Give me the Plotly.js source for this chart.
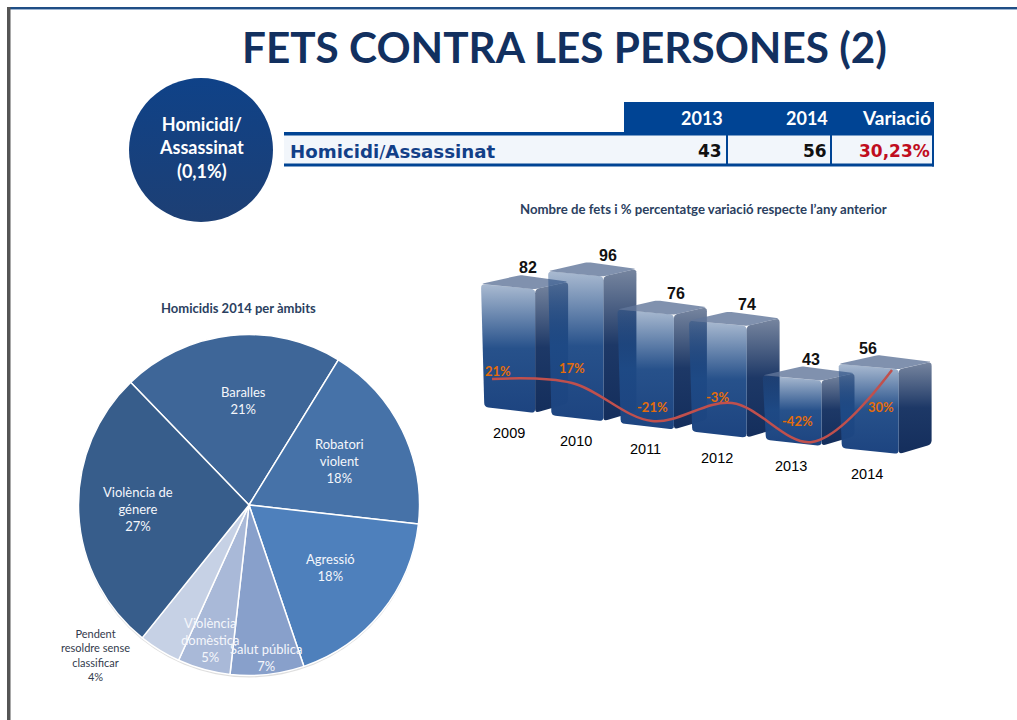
<!DOCTYPE html>
<html>
<head>
<meta charset="utf-8">
<script src="https://cdn.plot.ly/plotly-3.0.1.min.js"></script>
<style>html,body{margin:0;padding:0;background:#fff}#chart{width:1017px;height:720px}</style>
</head>
<body>
<div id="chart"></div>
<script>
// ---- data ----
var years = ['2009','2010','2011','2012','2013','2014'];
var facts = [82,96,76,74,43,56];
var variation = [21,17,-21,-3,-42,30];
var pieLabels = ['Baralles','Robatori violent','Agressió','Salut pública','Violència domèstica','Pendent resoldre sense classificar','Violència de génere'];
var pieValues = [21,18,18,7,5,4,27];
var tableHeaders = ['2013','2014','Variació'];
var tableRowName = ['Homicidi','/','Assassinat'];
var tableValues = ['43','56','30,23%'];

// ---- page geometry ----
var W = 1017, H = 720;
function px(x){return x/W;}
function py(y){return 1-y/H;}

// ---- bar projection (value units and slot units, mapped by the axes) ----
var unitX = 66, unitY = 1.5, leftPx = 481, zeroPy = 407;
var plotL = 440, plotR = 960, plotT = 240, plotB = 480;
function slot(i){return i + 0.0167*i*i;}
function base(i){return -5.47*i;}

// rounds the corners of a closed outline (radius in screen pixels)
function rounded(xs,ys,r){
  var outX=[],outY=[],n=xs.length;
  function q(a,b,c,t){return (1-t)*(1-t)*a+2*(1-t)*t*b+t*t*c;}
  for(var i=0;i<n;i++){
    var p=(i+n-1)%n,nx=(i+1)%n;
    var ax=(xs[p]-xs[i])*unitX,ay=(ys[p]-ys[i])*unitY,bx=(xs[nx]-xs[i])*unitX,by=(ys[nx]-ys[i])*unitY;
    var la=Math.hypot(ax,ay),lb=Math.hypot(bx,by),ra=Math.min(r,la/2),rb=Math.min(r,lb/2);
    var x0=xs[i]+ax/la*ra/unitX,y0=ys[i]+ay/la*ra/unitY,x2=xs[i]+bx/lb*rb/unitX,y2=ys[i]+by/lb*rb/unitY;
    [0,0.25,0.5,0.75,1].forEach(function(t){outX.push(q(x0,xs[i],x2,t));outY.push(q(y0,ys[i],y2,t));});
  }
  outX.push(outX[0]);outY.push(outY[0]);
  return {x:outX,y:outY};
}

var traces = [];
// circle
traces.push({type:'scatter',mode:'markers',xaxis:'x3',yaxis:'y3',x:[201],y:[150],
  marker:{size:144,color:'#0f4288',gradient:{type:'vertical',color:'#1d3f74'},line:{width:0}},
  hoverinfo:'skip',showlegend:false});

// 3D bars
years.forEach(function(yr,i){
  var xL=slot(i), w=0.82+0.018*i, d=0.5, xR=xL+w, xB=xR+d, b=base(i), t=b+facts[i];
  var side=rounded([xR,xB,xB,xR],[t-3.5,t+1.5,b+2.5,b-4],4);
  traces.push({type:'scatter',mode:'none',fill:'toself',x:side.x,y:side.y,
    fillgradient:{type:'vertical',colorscale:[[0,'rgba(20,46,92,1)'],[0.5,'rgba(22,50,98,0.97)'],[1,'rgba(34,58,100,0.62)']]},
    hoverinfo:'skip',showlegend:false});
  var front=rounded([xL,xR,xR,xL+0.05],[t,t-3.5,b-4,b],4);
  traces.push({type:'scatter',mode:'none',fill:'toself',x:front.x,y:front.y,
    fillgradient:{type:'vertical',colorscale:[[0,'rgba(29,68,128,1)'],[0.5,'rgba(30,74,134,0.96)'],[1,'rgba(30,74,134,0.38)']]},
    hoverinfo:'skip',showlegend:false});
  var top=rounded([xL,xL+0.6,xB,xR],[t,t+6,t+1.5,t-3.5],3);
  traces.push({type:'scatter',mode:'none',fill:'toself',x:top.x,y:top.y,
    fillcolor:'rgba(96,118,154,0.8)',hoverinfo:'skip',showlegend:false});
});

// variation line
traces.push({type:'scatter',mode:'lines',xaxis:'x2',yaxis:'y2',x:years,y:variation,
  line:{color:'#c0504d',width:2.5,shape:'spline',smoothing:1},hoverinfo:'skip',showlegend:false});

// pie
var pieCx=249,pieCy=505,pieR=170.5;
traces.push({type:'pie',labels:pieLabels,values:pieValues,sort:false,direction:'clockwise',rotation:-44,
  domain:{x:[px(pieCx-pieR),px(pieCx+pieR)],y:[py(pieCy+pieR),py(pieCy-pieR)]},
  marker:{colors:['#3e6698','#4672a8','#4e80bc','#88a0cb','#a9b9d8','#c6d1e5','#375d8b'],line:{color:'#ffffff',width:1.5}},
  textinfo:'none',hoverinfo:'skip',showlegend:false});

// ---- annotations ----
var ann = [];
function note(text,x,y,size,color,family,extra){
  var a={text:text,xref:'paper',yref:'paper',x:px(x),y:py(y),showarrow:false,xanchor:'center',yanchor:'middle',
    font:{size:size,color:color,family:family},align:'center'};
  for(var k in extra){a[k]=extra[k];}
  ann.push(a);
}
var LA='Lato, sans-serif', LS='"Liberation Sans", Arial, sans-serif', DV='"DejaVu Sans", sans-serif';
note('<b>FETS CONTRA LES PERSONES (2)</b>',564,47,42.3,'#12305f',LA);
note('<b>Homicidi/<br>Assassinat<br>(0,1%)</b>',201,148,18,'#ffffff',LA);
note('<b>Nombre de fets i % percentatge variació respecte l’any anterior</b>',703,209,13.2,'#2b3f5f',LA);
note('<b>Homicidis 2014 per àmbits</b>',238,308,13,'#2b3f5f',LA);

// table text
var headRight=[725,830,933];
tableHeaders.forEach(function(h,i){note('<b>'+h+'</b>',headRight[i],118,i==2?19:18,'#ffffff',LA,{xanchor:'right'});});
note('<b>'+tableRowName[0]+'</b>'+tableRowName[1]+'<b>'+tableRowName[2]+'</b>',288,151,18.2,'#123f88',DV,{xanchor:'left'});
var cellColor=['#111111','#111111','#c00d1e'];
var cellRight=[724,829,932];
tableValues.forEach(function(v,i){note('<b>'+v+'</b>',cellRight[i],151,17,cellColor[i],DV,{xanchor:'right'});});

// bar value + year labels, attached to bars through the axes
var valShift=[47,60,59,58,48,29];
years.forEach(function(yr,i){
  var t=base(i)+facts[i];
  ann.push({text:'<b>'+facts[i]+'</b>',xref:'x',yref:'y',x:slot(i),y:t,xshift:valShift[i],yshift:16,showarrow:false,
    font:{size:16,color:'#111111',family:LS}});
  ann.push({text:yr,xref:'x',yref:'y',x:slot(i),y:base(i),xshift:28,yshift:-26,showarrow:false,
    font:{size:14.5,color:'#000000',family:LS}});
});
// percent labels
var pctShiftX=[6,0,0,-15,-15,-11], pctShiftY=[8,15,14,6,21,-37];
variation.forEach(function(v,i){
  ann.push({text:'<b>'+v+'%</b>',xref:'x2',yref:'y2',x:i,y:v,xshift:pctShiftX[i],yshift:pctShiftY[i],showarrow:false,
    font:{size:13,color:'#e46c0a',family:LA}});
});
// pie labels
var pieTextPos=[[243,400],[339,461],[330,567],[266,657],[210,640],[95,655],[138,509]];
var pieTextLines=['Baralles<br>','Robatori<br>violent<br>','Agressió<br>','Salut pública<br>','Violència<br>domèstica<br>','Pendent<br>resoldre sense<br>classificar<br>','Violència de<br>génere<br>'];
pieTextLines.forEach(function(s,i){
  var outside=i==5;
  note(s+pieValues[i]+'%',pieTextPos[i][0],pieTextPos[i][1],outside?11:13,outside?'#333b4d':'#f4f6fb',LA);
});

// ---- frame and table shapes ----
function rect(x0,y0,x1,y1,c){return {type:'rect',xref:'paper',yref:'paper',x0:px(x0),x1:px(x1),y0:py(y0),y1:py(y1),fillcolor:c,line:{width:0},layer:'below'};}
var shapes=[
  rect(7,7,W,9,'#1f4e85'),
  rect(10,9,W,10,'#9db4d0'),
  rect(7,7,10.5,H,'#555555'),
  rect(624,102,934,133,'#004494'),
  rect(284,135,932,164,'#f2f6fb'),
  rect(284,132,934,135.5,'#004494'),
  rect(284,163.5,934,166.5,'#004494'),
  rect(726,135,728,164,'#004494'),
  rect(830,135,832,164,'#004494'),
  rect(932,132,934,166.5,'#004494'),
  {type:'circle',xref:'paper',yref:'paper',x0:px(pieCx-pieR),x1:px(pieCx+pieR),y0:py(pieCy+pieR+2),y1:py(pieCy-pieR+2),fillcolor:'rgba(0,0,0,0.13)',line:{width:0},layer:'below'}
];

var layout={width:W,height:H,margin:{l:0,r:0,t:0,b:0},paper_bgcolor:'#fff',plot_bgcolor:'rgba(0,0,0,0)',showlegend:false,
  xaxis:{domain:[px(plotL),px(plotR)],range:[(plotL-leftPx)/unitX,(plotR-leftPx)/unitX],visible:false,anchor:'y'},
  yaxis:{domain:[py(plotB),py(plotT)],range:[(zeroPy-plotB)/unitY,(zeroPy-plotT)/unitY],visible:false,anchor:'x'},
  xaxis2:{type:'category',domain:[px(452),px(932)],range:[-0.5,5.5],visible:false,anchor:'y2'},
  yaxis2:{domain:[py(plotB),py(plotT)],range:[400-plotB,400-plotT],visible:false,anchor:'x2'},
  xaxis3:{domain:[0,1],range:[0,W],visible:false,anchor:'y3'},
  yaxis3:{domain:[0,1],range:[H,0],visible:false,anchor:'x3'},
  annotations:ann,shapes:shapes};
Plotly.newPlot('chart',traces,layout,{displayModeBar:false,staticPlot:true});
</script>
</body>
</html>
